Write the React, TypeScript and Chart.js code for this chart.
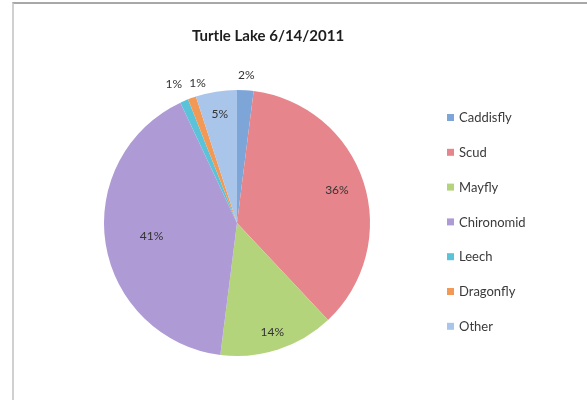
import React, { useEffect, useRef } from "react";
import { Chart, registerables } from "chart.js";

Chart.register(...registerables);

const TITLE = "Turtle Lake 6/14/2011";
const categories = ["Caddisfly", "Scud", "Mayfly", "Chironomid", "Leech", "Dragonfly", "Other"];
const percentages = [2, 36, 14, 41, 1, 1, 5];
const colors = ["#7EA5D8", "#E6868C", "#B4D47C", "#AE9BD6", "#5BC3D9", "#F29A55", "#A9C5EA"];

const FONT = "Lato, 'Open Sans', sans-serif";

const labelPlugin = {
  id: "customDraw",
  afterDraw(chart: any) {
    const ctx = chart.ctx;
    const meta = chart.getDatasetMeta(0);
    const data = chart.data.datasets[0].data as number[];
    const total = data.reduce((a, b) => a + b, 0);
    ctx.save();
    // title
    ctx.fillStyle = "#1e1e1e";
    ctx.font = `bold 15px ${FONT}`;
    ctx.textAlign = "center";
    ctx.textBaseline = "middle";
    ctx.fillText(TITLE, 268, 36);

    // data labels
    const factors = [null, 0.79, 0.86, 0.65, null, null, 0.83];
    const outsideShift = [0, 0, 0, 0, -1, 4, 0];
    const outsideGap = [15, 0, 0, 0, 20, 12, 0];
    ctx.font = `12px ${FONT}`;
    ctx.fillStyle = "#333";
    meta.data.forEach((arc: any, i: number) => {
      const { x, y, startAngle, endAngle, outerRadius } = arc.getProps(
        ["x", "y", "startAngle", "endAngle", "outerRadius"],
        true
      );
      const mid = (startAngle + endAngle) / 2;
      const pct = Math.round((data[i] / total) * 100) + "%";
      const f = factors[i];
      let r: number;
      let a = mid;
      if (f == null) {
        r = outerRadius + outsideGap[i];
        a = mid + (outsideShift[i] * Math.PI) / 180;
      } else {
        r = outerRadius * f;
      }
      ctx.fillText(pct, x + Math.cos(a) * r, y + Math.sin(a) * r);
    });

    // legend
    ctx.font = `13px ${FONT}`;
    ctx.textAlign = "left";
    categories.forEach((c, i) => {
      const cy = 118 + i * 34.8;
      ctx.fillStyle = colors[i];
      ctx.fillRect(447, cy - 4, 7, 7);
      ctx.fillStyle = "#3a3a3a";
      ctx.fillText(c, 459, cy);
    });
    ctx.restore();
  },
};

export default function App() {
  const ref = useRef<HTMLCanvasElement>(null);
  useEffect(() => {
    if (!ref.current) return;
    const chart = new Chart(ref.current, {
      type: "pie",
      data: {
        labels: categories,
        datasets: [
          {
            data: percentages,
            backgroundColor: colors,
            borderWidth: 0,
          },
        ],
      },
      options: {
        animation: false,
        responsive: false,
        maintainAspectRatio: false,
        layout: { padding: { left: 104, right: 217, top: 90, bottom: 44 } },
        plugins: {
          legend: { display: false },
          title: { display: false },
          tooltip: { enabled: false },
        },
      },
      plugins: [labelPlugin],
    });
    return () => chart.destroy();
  }, []);

  return (
    <div style={{ position: "fixed", left: 0, top: 0, width: 587, height: 400, background: "#fff" }}>
      <div
        style={{
          position: "absolute",
          left: 12,
          top: 2,
          right: 0,
          bottom: 0,
          borderTop: "2px solid #a8a8a8",
          borderLeft: "2px solid #d0d0d0",
        }}
      />
      <canvas ref={ref} width={587} height={400} style={{ position: "absolute", left: 0, top: 0 }} />
    </div>
  );
}
